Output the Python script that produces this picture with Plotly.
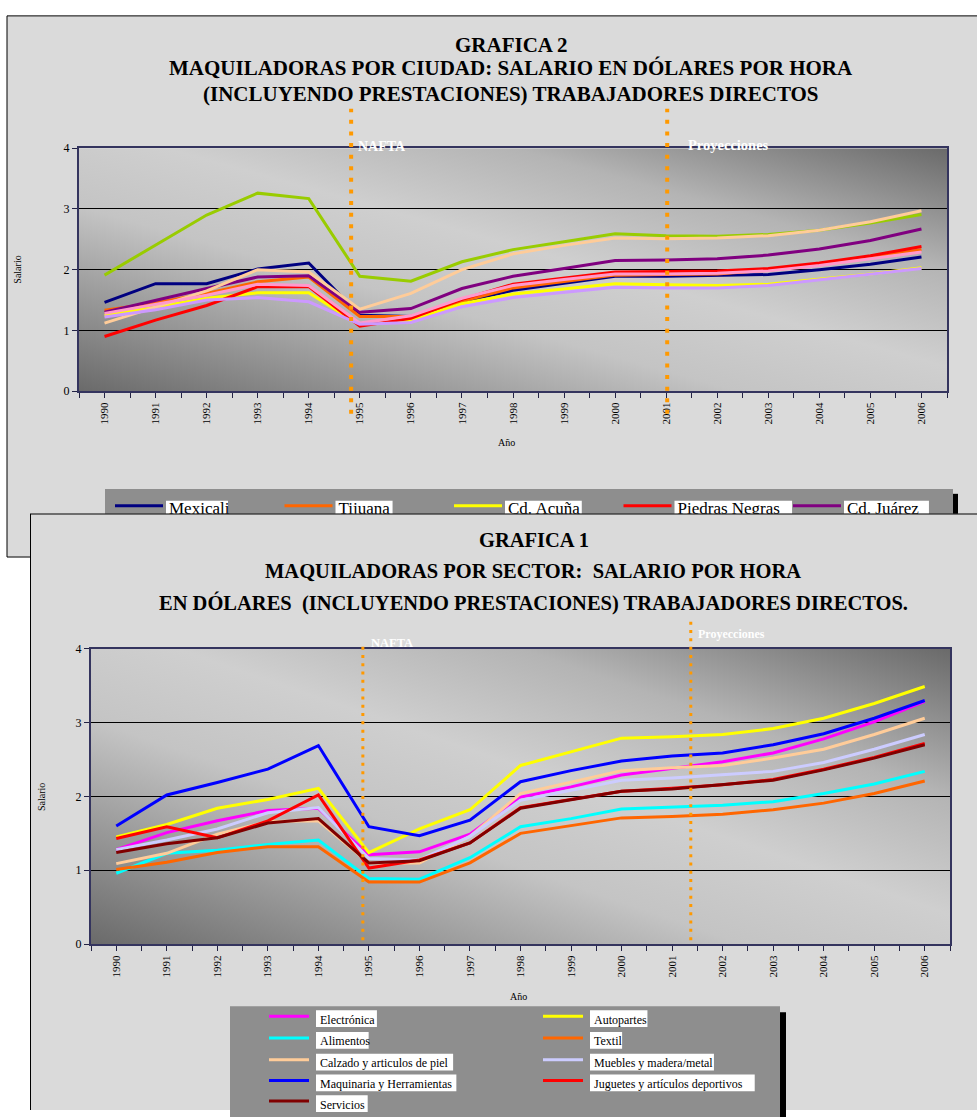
import base64
import plotly.graph_objects as go

W, H = 977, 1117


def fx(x):
    return x / W


def fy(y):
    return 1 - y / H


SERIF = "Liberation Serif, 'Times New Roman', serif"
PANEL = "#dadada"
LEYENDA_GRIS = "#8e8e8e"
NARANJA = "#ff9900"

anios = list(range(1990, 2007))
etiquetas_anio = [str(a) for a in anios]

# ---- GRAFICA 2: salario por ciudad ----
ciudades = ["Mexicali", "Tijuana", "Cd. Acuña", "Piedras Negras", "Cd. Juárez"]
colores_ciudades = ["#000080", "#ff6600", "#ffff00", "#ff0000", "#800080"]
mexicali = [1.46, 1.77, 1.77, 2.01, 2.11, 1.25, 1.23, 1.47, 1.66, 1.78, 1.89, 1.89, 1.90, 1.92, 2.00, 2.09, 2.21]
tijuana = [1.33, 1.45, 1.61, 1.80, 1.88, 1.23, 1.23, 1.48, 1.70, 1.81, 1.91, 1.92, 1.93, 1.99, 2.08, 2.21, 2.33]
cd_acuna = [1.25, 1.38, 1.53, 1.62, 1.62, 1.09, 1.17, 1.44, 1.60, 1.69, 1.77, 1.75, 1.74, 1.76, 1.84, 1.93, 2.03]
piedras_negras = [0.90, 1.17, 1.41, 1.72, 1.72, 1.07, 1.20, 1.51, 1.76, 1.86, 1.96, 1.97, 1.98, 2.02, 2.11, 2.23, 2.38]
cd_juarez = [1.30, 1.50, 1.69, 1.88, 1.90, 1.30, 1.36, 1.69, 1.89, 2.02, 2.15, 2.16, 2.18, 2.24, 2.34, 2.48, 2.67]
# series cuya leyenda queda bajo la grafica 1
serie_verde = [1.91, 2.40, 2.90, 3.26, 3.17, 1.89, 1.81, 2.13, 2.33, 2.46, 2.59, 2.56, 2.55, 2.58, 2.65, 2.77, 2.91]
serie_durazno = [1.12, 1.39, 1.65, 2.00, 1.96, 1.35, 1.61, 2.00, 2.26, 2.40, 2.52, 2.51, 2.52, 2.56, 2.65, 2.79, 2.97]
serie_rosa = [1.28, 1.43, 1.58, 1.76, 1.74, 1.12, 1.24, 1.53, 1.74, 1.84, 1.93, 1.93, 1.94, 1.98, 2.07, 2.18, 2.29]
serie_lila = [1.22, 1.34, 1.50, 1.54, 1.47, 1.10, 1.13, 1.39, 1.54, 1.63, 1.71, 1.70, 1.70, 1.74, 1.83, 1.92, 2.02]
valores_ciudades = [mexicali, tijuana, cd_acuna, piedras_negras, cd_juarez]
valores_otras = [serie_verde, serie_durazno, serie_rosa, serie_lila]
colores_otras = ["#99cc00", "#ffcc99", "#ff99cc", "#cc99ff"]

# ---- GRAFICA 1: salario por sector ----
sectores = ["Electrónica", "Autopartes", "Alimentos", "Textil", "Calzado y articulos de piel",
            "Muebles y madera/metal", "Maquinaria y Herramientas",
            "Juguetes y artículos deportivos", "Servicios"]
colores_sectores = ["#ff00ff", "#ffff00", "#00ffff", "#ff6600", "#ffcc99",
                    "#ccccff", "#0000ff", "#ff0000", "#800000"]
electronica = [1.28, 1.51, 1.67, 1.81, 1.84, 1.21, 1.25, 1.49, 1.99, 2.13, 2.29, 2.38, 2.47, 2.59, 2.78, 3.01, 3.29]
autopartes = [1.45, 1.62, 1.84, 1.96, 2.11, 1.24, 1.56, 1.82, 2.42, 2.60, 2.79, 2.81, 2.84, 2.92, 3.06, 3.26, 3.49]
alimentos = [0.96, 1.23, 1.27, 1.35, 1.41, 0.89, 0.88, 1.17, 1.59, 1.70, 1.83, 1.85, 1.88, 1.93, 2.04, 2.17, 2.34]
textil = [1.01, 1.11, 1.24, 1.32, 1.32, 0.84, 0.84, 1.10, 1.50, 1.60, 1.71, 1.73, 1.76, 1.82, 1.91, 2.04, 2.21]
calzado = [1.09, 1.23, 1.49, 1.66, 1.67, 1.10, 1.10, 1.46, 2.04, 2.19, 2.35, 2.39, 2.42, 2.52, 2.64, 2.84, 3.06]
muebles = [1.28, 1.41, 1.56, 1.78, 1.85, 1.16, 1.14, 1.46, 1.95, 2.08, 2.22, 2.25, 2.29, 2.34, 2.46, 2.64, 2.84]
maquinaria = [1.60, 2.02, 2.19, 2.37, 2.69, 1.59, 1.47, 1.68, 2.20, 2.35, 2.48, 2.55, 2.59, 2.70, 2.85, 3.06, 3.30]
juguetes = [1.43, 1.59, 1.44, 1.67, 2.02, 1.03, 1.14, 1.37, 1.85, 1.96, 2.07, 2.11, 2.16, 2.23, 2.37, 2.53, 2.72]
servicios = [1.24, 1.36, 1.44, 1.64, 1.70, 1.10, 1.13, 1.37, 1.84, 1.95, 2.07, 2.10, 2.16, 2.22, 2.36, 2.52, 2.70]
valores_sectores = [electronica, autopartes, alimentos, textil, calzado, muebles,
                    maquinaria, juguetes, servicios]

# marcas de referencia (años fraccionarios sobre el eje)
NAFTA_G2, PROY_G2 = 1994.83, 2001.02
NAFTA_G1, PROY_G1 = 1994.88, 2001.37

# degradado diagonal del área de trazado
svg = (
    '<svg xmlns="http://www.w3.org/2000/svg" width="100" height="100" viewBox="0 0 100 100" '
    'preserveAspectRatio="none"><defs><linearGradient id="g" x1="0" y1="1" x2="1" y2="0">'
    '<stop offset="0" stop-color="#6a6a6a"/><stop offset="0.38" stop-color="#c4c4c4"/>'
    '<stop offset="0.55" stop-color="#cfcfcf"/><stop offset="0.75" stop-color="#b4b4b4"/>'
    '<stop offset="1" stop-color="#6a6a6a"/></linearGradient></defs>'
    '<rect width="100" height="100" fill="url(#g)"/></svg>'
)
DEGRADADO = "data:image/svg+xml;base64," + base64.b64encode(svg.encode()).decode()


def ancho_texto(texto, tam):
    w = 0.0
    for c in texto:
        if c.isupper():
            w += 0.68
        elif c in "iljtf.,:;/ ":
            w += 0.29
        elif c in "mw":
            w += 0.75
        else:
            w += 0.48
    return w * tam


fig = go.Figure()

# trazos de la grafica 2
for vals, color, nombre in zip(valores_ciudades + valores_otras,
                               colores_ciudades + colores_otras,
                               ciudades + [""] * len(valores_otras)):
    fig.add_trace(go.Scatter(x=anios, y=vals, mode="lines", name=nombre,
                             line=dict(color=color, width=3), showlegend=False,
                             xaxis="x", yaxis="y", hoverinfo="skip"))

# subgrafica que sirve de hoja para la grafica 1
fig.add_trace(go.Scatter(x=[0.5], y=[0.5], mode="markers", marker=dict(opacity=0),
                         showlegend=False, xaxis="x2", yaxis="y2", hoverinfo="skip"))

# trazos de la grafica 1
for vals, color, nombre in zip(valores_sectores, colores_sectores, sectores):
    fig.add_trace(go.Scatter(x=anios, y=vals, mode="lines", name=nombre,
                             line=dict(color=color, width=3), showlegend=False,
                             xaxis="x3", yaxis="y3", hoverinfo="skip"))


def eje_x(dominio, ancla, tam):
    return dict(domain=dominio, anchor=ancla, range=[1989.5, 2006.5],
                tickmode="array", tickvals=anios, ticktext=etiquetas_anio, tickangle=-90,
                ticks="outside", ticklen=5, tickcolor="#222244", tickwidth=1,
                minor=dict(ticks="outside", ticklen=5, tickcolor="#222244", dtick=1, tick0=1989.5),
                showline=True, linecolor="#34345e", linewidth=2, mirror=True,
                showgrid=False, zeroline=False, fixedrange=True,
                tickfont=dict(family=SERIF, size=tam, color="black"))


def eje_y(dominio, ancla, tam):
    return dict(domain=dominio, anchor=ancla, range=[0, 4], dtick=1, tick0=0,
                ticks="outside", ticklen=5, tickcolor="#222244",
                showline=True, linecolor="#34345e", linewidth=2, mirror=True,
                showgrid=True, gridcolor="black", gridwidth=1, zeroline=False,
                fixedrange=True, tickfont=dict(family=SERIF, size=tam, color="black"))


shapes = []
annotations = []
images = []

# hoja de la grafica 2
shapes.append(dict(type="rect", xref="paper", yref="paper", x0=fx(7), x1=fx(1010),
                   y0=fy(557), y1=fy(9), fillcolor=PANEL, line=dict(color="black", width=1),
                   layer="below"))

# leyenda de la grafica 2 (la grafica 1 la tapa en parte)
shapes.append(dict(type="rect", xref="paper", yref="paper", x0=fx(105), x1=fx(953),
                   y0=fy(560), y1=fy(488), fillcolor=LEYENDA_GRIS, line=dict(width=0),
                   layer="below"))
shapes.append(dict(type="rect", xref="paper", yref="paper", x0=fx(953), x1=fx(958),
                   y0=fy(560), y1=fy(493), fillcolor="black", line=dict(width=0),
                   layer="below"))
for i, (nombre, color) in enumerate(zip(ciudades, colores_ciudades)):
    x_linea = 115 + i * 169.5
    shapes.append(dict(type="line", xref="paper", yref="paper", x0=fx(x_linea), x1=fx(x_linea + 48),
                       y0=fy(505), y1=fy(505), line=dict(color=color, width=3), layer="below"))
    x_txt = x_linea + 51
    shapes.append(dict(type="rect", xref="paper", yref="paper", x0=fx(x_txt),
                       x1=fx(x_txt + ancho_texto(nombre, 17) + 3), y0=fy(522), y1=fy(500),
                       fillcolor="white", line=dict(width=0), layer="below"))
    shapes.append(dict(type="rect", xref="paper", yref="paper", x0=fx(x_txt),
                       x1=fx(x_txt + ancho_texto(nombre, 17) + 3), y0=fy(522), y1=fy(496),
                       fillcolor="rgba(0,0,0,0)", line=dict(width=0), layer="below",
                       label=dict(text=nombre, textposition="top left", padding=0,
                                  yanchor="top",
                                  font=dict(family=SERIF, size=17, color="black"))))

# hoja de la grafica 1, dibujada sobre la grafica 2
shapes.append(dict(type="rect", xref="x2", yref="y2", x0=0, x1=1.2, y0=-0.2, y1=1,
                   fillcolor=PANEL, line=dict(color="black", width=2), layer="below"))

# fondos degradados
images.append(dict(source=DEGRADADO, xref="x", yref="y", x=1989.5, y=4, sizex=17, sizey=4,
                   sizing="stretch", xanchor="left", yanchor="top", layer="below"))
images.append(dict(source=DEGRADADO, xref="x3", yref="y3", x=1989.5, y=4, sizex=17, sizey=4,
                   sizing="stretch", xanchor="left", yanchor="top", layer="below"))

# lineas punteadas NAFTA / Proyecciones
for xr, xv, y_ini, y_fin, ancho, patron in [
    ("x", NAFTA_G2, 103, 412, 4, "4px,7.6px"),
    ("x", PROY_G2, 103, 412, 4, "4px,7.6px"),
    ("x3", NAFTA_G1, 643, 945, 3, "3px,5.3px"),
    ("x3", PROY_G1, 620, 945, 3, "3px,5.3px"),
]:
    shapes.append(dict(type="line", xref=xr, yref="paper", x0=xv, x1=xv, y0=fy(y_fin), y1=fy(y_ini),
                       line=dict(color=NARANJA, width=ancho, dash=patron), layer="above"))

# leyenda de la grafica 1
shapes.append(dict(type="rect", xref="paper", yref="paper", x0=fx(230), x1=fx(780),
                   y0=fy(1130), y1=fy(1012), fillcolor=LEYENDA_GRIS, line=dict(width=0),
                   layer="above"))
shapes.append(dict(type="rect", xref="paper", yref="paper", x0=fx(780), x1=fx(786),
                   y0=fy(1130), y1=fy(1018), fillcolor="black", line=dict(width=0),
                   layer="above"))
filas = [1025, 1047, 1069, 1090, 1111]
columnas = [269, 543]
for i, (nombre, color) in enumerate(zip(sectores, colores_sectores)):
    y_f = filas[i // 2]
    x_l = columnas[i % 2]
    shapes.append(dict(type="line", xref="paper", yref="paper", x0=fx(x_l), x1=fx(x_l + 40),
                       y0=fy(y_f - 3), y1=fy(y_f - 3), line=dict(color=color, width=3),
                       layer="above"))
    x_t = x_l + 47
    shapes.append(dict(type="rect", xref="paper", yref="paper", x0=fx(x_t),
                       x1=fx(x_t + ancho_texto(nombre, 12) + 2), y0=fy(y_f + 8), y1=fy(y_f - 9),
                       fillcolor="white", line=dict(width=0), layer="above",
                       label=dict(text=nombre, textposition="middle left", padding=1,
                                  font=dict(family=SERIF, size=12, color="black"))))


def texto(t, x, y, tam, negrita=False, color="black", angulo=0, xanchor="center"):
    annotations.append(dict(text=("<b>%s</b>" % t) if negrita else t, x=fx(x), y=fy(y),
                            xref="paper", yref="paper", showarrow=False, textangle=angulo,
                            xanchor=xanchor, yanchor="middle",
                            font=dict(family=SERIF, size=tam, color=color)))


# titulos
texto("GRAFICA 2", 511, 38, 21, True)
texto("MAQUILADORAS POR CIUDAD: SALARIO EN DÓLARES POR HORA", 511, 62, 21, True)
texto("(INCLUYENDO PRESTACIONES) TRABAJADORES DIRECTOS", 511, 88, 21, True)
texto("GRAFICA 1", 534, 540, 20.5, True)
texto("MAQUILADORAS POR SECTOR:\u00a0 SALARIO POR HORA", 533, 571, 20.5, True)
texto("EN DÓLARES\u00a0 (INCLUYENDO PRESTACIONES) TRABAJADORES DIRECTOS.", 533, 604, 20.5, True)

# rotulos de las marcas
texto("NAFTA", 356, 141, 14, True, "white", xanchor="left")
texto("Proyecciones", 686, 140, 14.5, True, "white", xanchor="left")
texto("NAFTA", 369, 644, 12.5, True, "white", xanchor="left")
texto("Proyecciones", 696, 635, 12, True, "white", xanchor="left")

# titulos de ejes
texto("Salario", 18, 266, 10, angulo=-90)
texto("Año", 506, 441, 10)
texto("Salario", 42, 800, 10, angulo=-90)
texto("Año", 518, 1002, 10)

fig.update_layout(
    width=W, height=H, margin=dict(l=0, r=0, t=0, b=0),
    paper_bgcolor="white", plot_bgcolor="rgba(0,0,0,0)",
    showlegend=False,
    xaxis=eje_x([fx(79), fx(947)], "y", 11),
    yaxis=eje_y([fy(389), fy(143)], "x", 12),
    xaxis2=dict(domain=[fx(30), 1], anchor="y2", range=[0, 1], visible=False, fixedrange=True),
    yaxis2=dict(domain=[0, fy(513)], anchor="x2", range=[0, 1], visible=False, fixedrange=True),
    xaxis3=eje_x([fx(91), fx(950)], "y3", 11),
    yaxis3=eje_y([fy(949), fy(650)], "x3", 12),
    shapes=shapes, annotations=annotations, images=images,
)

fig.write_html("out.html")
